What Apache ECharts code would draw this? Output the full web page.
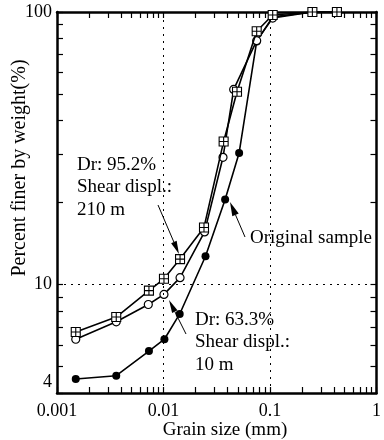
<!DOCTYPE html>
<html>
<head>
<meta charset="utf-8">
<script src="https://cdn.jsdelivr.net/npm/echarts@6/dist/echarts.min.js"></script>
<style>
html,body{margin:0;padding:0;background:#fff;}
#chart{width:384px;height:440px;}
</style>
</head>
<body>
<div id="chart"></div>
<script>
// ---- data ----
const xDense = [0.0015, 0.0036, 0.0073, 0.0101, 0.0143, 0.024, 0.0367, 0.049, 0.075, 0.106, 0.25, 0.425];
const yDense = [6.7, 7.6, 9.5, 10.5, 12.4, 16.2, 33.5, 51, 85, 97.5, 100, 100];
const xLoose = [0.0015, 0.0036, 0.0072, 0.0101, 0.0143, 0.0243, 0.0362, 0.0456, 0.075, 0.106, 0.25, 0.425];
const yLoose = [6.3, 7.3, 8.45, 9.2, 10.6, 15.6, 29.3, 52, 78.5, 95, 100, 100];
const xOrig = [0.0015, 0.0036, 0.0073, 0.0102, 0.0142, 0.0248, 0.0379, 0.0513, 0.075, 0.106, 0.25, 0.425];
const yOrig = [4.5, 4.63, 5.7, 6.3, 7.8, 12.7, 20.5, 30.4, 78, 96, 100, 100];
const xTickValues = [0.001, 0.01, 0.1, 1];
const xTickLabels = ['0.001', '0.01', '0.1', '1'];
const yTickValues = [4, 10, 100];
const yTickLabels = ['4', '10', '100'];
const xMinorTicks = [0.001,0.002,0.003,0.004,0.005,0.006,0.007,0.008,0.009,
                     0.01,0.02,0.03,0.04,0.05,0.06,0.07,0.08,0.09,
                     0.1,0.2,0.3,0.4,0.5,0.6,0.7,0.8,0.9,1];
const yMinorTicks = [4,5,6,7,8,9,10,20,30,40,50,60,70,80,90,100];
const gridX = [0.01, 0.1];
const gridY = [10];

const FONT = "'Liberation Serif', 'Times New Roman', serif";
const pair = (xs, ys) => xs.map((x, i) => [x, ys[i]]);
const crossSquare = 'path://M0,0 L10,0 L10,10 L0,10 Z M5,0 L5,10 M0,5 L10,5';

function xAxisDef(pos, labels) {
  return {
    type: 'log', logBase: 10, min: 0.001, max: 1, position: pos,
    axisLine: {show: true, onZero: false, lineStyle: {color: '#000', width: 2.5}},
    axisTick: {show: true, inside: true, length: 6, customValues: xMinorTicks,
               lineStyle: {color: '#000', width: 1.2}},
    axisLabel: labels ? {
      show: true, customValues: xTickValues, margin: 9,
      fontFamily: FONT, fontSize: 18, color: '#000',
      formatter: v => { const i = xTickValues.findIndex(t => Math.abs(Math.log10(t) - Math.log10(v)) < 1e-6); return i >= 0 ? xTickLabels[i] : ''; }
    } : {show: false},
    splitLine: {show: false}, minorTick: {show: false}
  };
}
function yAxisDef(pos, labels) {
  return {
    type: 'log', logBase: 10, min: 4, max: 100, position: pos,
    axisLine: {show: true, onZero: false, lineStyle: {color: '#000', width: 2.5}},
    axisTick: {show: true, inside: true, length: 6, customValues: yMinorTicks,
               lineStyle: {color: '#000', width: 1.2}},
    axisLabel: labels ? {
      show: true, customValues: yTickValues, margin: 5,
      fontFamily: FONT, fontSize: 18, color: '#000',
      formatter: v => { const i = yTickValues.findIndex(t => Math.abs(t - v) < 1e-6); if (i < 0) return ''; return i === 0 ? '{low|' + yTickLabels[i] + '}' : yTickLabels[i]; },
      rich: {low: {fontFamily: FONT, fontSize: 18, color: '#000', padding: [0, 0, 22, 0]}}
    } : {show: false},
    splitLine: {show: false}, minorTick: {show: false}
  };
}

function arrow(x1, y1, x2, y2, len, hw) {
  const dx = x2 - x1, dy = y2 - y1, n = Math.hypot(dx, dy);
  const ux = dx / n, uy = dy / n;
  const bx = x2 - ux * len, by = y2 - uy * len;
  return [
    {type: 'line', shape: {x1: x1, y1: y1, x2: bx, y2: by}, style: {stroke: '#000', lineWidth: 1}, z: 100},
    {type: 'polygon', shape: {points: [[x2, y2], [bx - uy * hw, by + ux * hw], [bx + uy * hw, by - ux * hw]]},
     style: {fill: '#000'}, z: 100}
  ];
}
function txt(x, y, s, align) {
  return {type: 'text', x: x, y: y, z: 100,
          style: {text: s, fontFamily: FONT, fontSize: 19, fill: '#000', align: align || 'left', verticalAlign: 'middle'}};
}

const chart = echarts.init(document.getElementById('chart'), null, {renderer: 'canvas'});
const option = {
  backgroundColor: '#fff',
  animation: false,
  grid: {left: 57, right: 2, top: 12, bottom: 47},
  xAxis: [xAxisDef('bottom', true), xAxisDef('top', false)],
  yAxis: [yAxisDef('left', true), yAxisDef('right', false)],
  series: [
    {
      name: 'Original sample', type: 'line', data: pair(xOrig, yOrig),
      symbol: 'circle', symbolSize: 8,
      lineStyle: {color: '#000', width: 1.6},
      itemStyle: {color: '#000', borderColor: '#000', borderWidth: 0},
      markLine: {
        silent: true, symbol: ['none', 'none'], label: {show: false},
        lineStyle: {color: '#000', width: 1, type: [2, 5]},
        data: gridX.map(v => ({xAxis: v})).concat(gridY.map(v => ({yAxis: v})))
      },
      z: 3
    },
    {
      name: 'Dr 63.3%', type: 'line', data: pair(xLoose, yLoose),
      symbol: 'circle', symbolSize: 8,
      lineStyle: {color: '#000', width: 1.6},
      itemStyle: {color: '#fff', borderColor: '#000', borderWidth: 1.2},
      z: 4
    },
    {
      name: 'Dr 95.2%', type: 'line', data: pair(xDense, yDense),
      symbol: crossSquare, symbolSize: 9,
      lineStyle: {color: '#000', width: 1.6},
      itemStyle: {color: '#fff', borderColor: '#000', borderWidth: 1.1},
      z: 5
    }
  ],
  graphic: [
    txt(77, 165, 'Dr: 95.2%'), txt(77, 187, 'Shear displ.:'), txt(77, 210, '210 m'),
    txt(250, 238, 'Original sample'),
    txt(195, 320, 'Dr: 63.3%'), txt(195, 342, 'Shear displ.:'), txt(195, 365, '10 m'),
    ...arrow(158, 205, 179, 254, 13, 3),
    ...arrow(245, 237, 230, 202, 14, 3.5),
    ...arrow(186, 334, 169, 300, 13, 3),
    {type: 'text', x: 225, y: 430, z: 100,
     style: {text: 'Grain size (mm)', fontFamily: FONT, fontSize: 19, fill: '#000', align: 'center', verticalAlign: 'middle'}},
    {type: 'text', x: 20, y: 168, rotation: Math.PI / 2, z: 100,
     style: {text: 'Percent finer by weight(%)', fontFamily: FONT, fontSize: 20, fill: '#000', align: 'center', verticalAlign: 'middle'}}
  ]
};
chart.setOption(option);
</script>
</body>
</html>
